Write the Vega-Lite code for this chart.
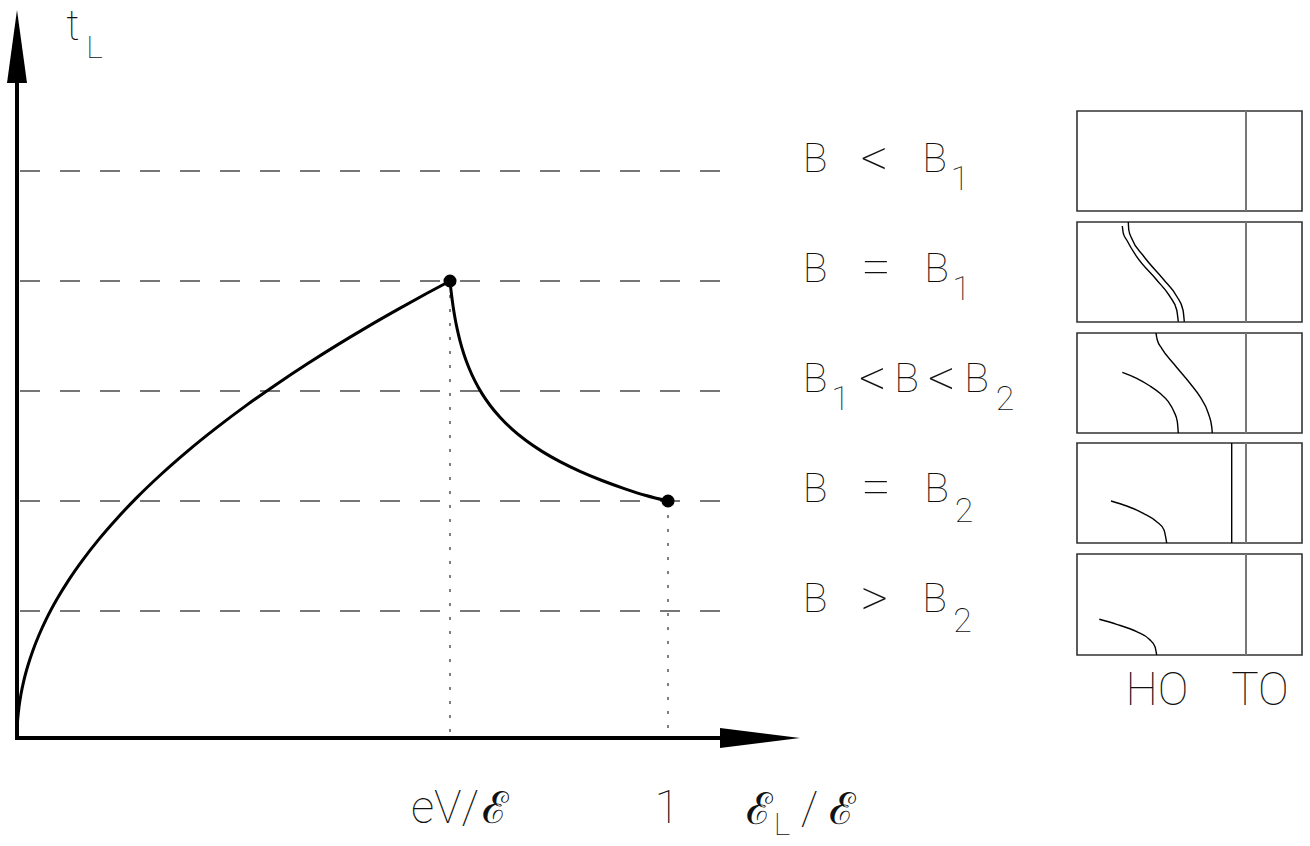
{
  "$schema": "https://vega.github.io/schema/vega-lite/v6.json",
  "width": 1310,
  "height": 846,
  "padding": 0,
  "autosize": {"type": "none"},
  "background": "white",
  "config": {"view": {"stroke": null}},
  "datasets": {
    "axes": [
      {"x": 0, "y": 0, "x2": 0, "y2": 6.6},
      {"x": 0, "y": 0, "x2": 1.1413, "y2": 0}
    ],
    "arrowX": [
      {"x": 1.079877, "y": -0.1, "y2": 0.1},
      {"x": 1.202765, "y": 0, "y2": 0}
    ],
    "arrowY": [
      {"y": 6.55, "x": -0.015361, "x2": 0.015361},
      {"y": 7.28, "x": 0, "x2": 0}
    ],
    "levels": [
      {"y": 5.67, "x": 0.004608, "x2": 1.079877},
      {"y": 4.57, "x": 0.004608, "x2": 1.079877},
      {"y": 3.47, "x": 0.004608, "x2": 1.079877},
      {"y": 2.37, "x": 0.004608, "x2": 1.079877},
      {"y": 1.27, "x": 0.004608, "x2": 1.079877}
    ],
    "drops": [
      {"x": 0.665131, "y": 4.57, "y2": 0},
      {"x": 1, "y": 2.37, "y2": 0}
    ],
    "curve": [
      {"seg": "rise", "x": 0, "y": 0},
      {"seg": "rise", "x": 0.000768, "y": 0.155},
      {"seg": "rise", "x": 0.001536, "y": 0.22},
      {"seg": "rise", "x": 0.003072, "y": 0.311},
      {"seg": "rise", "x": 0.006144, "y": 0.439},
      {"seg": "rise", "x": 0.010753, "y": 0.581},
      {"seg": "rise", "x": 0.016897, "y": 0.728},
      {"seg": "rise", "x": 0.024578, "y": 0.878},
      {"seg": "rise", "x": 0.033794, "y": 1.03},
      {"seg": "rise", "x": 0.046083, "y": 1.203},
      {"seg": "rise", "x": 0.061444, "y": 1.389},
      {"seg": "rise", "x": 0.079877, "y": 1.584},
      {"seg": "rise", "x": 0.101382, "y": 1.784},
      {"seg": "rise", "x": 0.12596, "y": 1.989},
      {"seg": "rise", "x": 0.15361, "y": 2.196},
      {"seg": "rise", "x": 0.184332, "y": 2.406},
      {"seg": "rise", "x": 0.222734, "y": 2.645},
      {"seg": "rise", "x": 0.261137, "y": 2.864},
      {"seg": "rise", "x": 0.30722, "y": 3.106},
      {"seg": "rise", "x": 0.353303, "y": 3.331},
      {"seg": "rise", "x": 0.399386, "y": 3.541},
      {"seg": "rise", "x": 0.445469, "y": 3.74},
      {"seg": "rise", "x": 0.491551, "y": 3.929},
      {"seg": "rise", "x": 0.537634, "y": 4.109},
      {"seg": "rise", "x": 0.583717, "y": 4.281},
      {"seg": "rise", "x": 0.6298, "y": 4.447},
      {"seg": "rise", "x": 0.665131, "y": 4.57},
      {"seg": "fall", "x": 0.665131, "y": 4.57},
      {"seg": "fall", "x": 0.665899, "y": 4.5212},
      {"seg": "fall", "x": 0.666667, "y": 4.476},
      {"seg": "fall", "x": 0.668203, "y": 4.3945},
      {"seg": "fall", "x": 0.669739, "y": 4.3227},
      {"seg": "fall", "x": 0.672811, "y": 4.2003},
      {"seg": "fall", "x": 0.675883, "y": 4.0984},
      {"seg": "fall", "x": 0.680492, "y": 3.9717},
      {"seg": "fall", "x": 0.686636, "y": 3.8356},
      {"seg": "fall", "x": 0.694316, "y": 3.6995},
      {"seg": "fall", "x": 0.703533, "y": 3.5682},
      {"seg": "fall", "x": 0.714286, "y": 3.444},
      {"seg": "fall", "x": 0.726575, "y": 3.3275},
      {"seg": "fall", "x": 0.741935, "y": 3.2075},
      {"seg": "fall", "x": 0.760369, "y": 3.0891},
      {"seg": "fall", "x": 0.781874, "y": 2.9749},
      {"seg": "fall", "x": 0.806452, "y": 2.8661},
      {"seg": "fall", "x": 0.834101, "y": 2.7633},
      {"seg": "fall", "x": 0.864823, "y": 2.6663},
      {"seg": "fall", "x": 0.898618, "y": 2.5748},
      {"seg": "fall", "x": 0.933948, "y": 2.4919},
      {"seg": "fall", "x": 0.966206, "y": 2.4249},
      {"seg": "fall", "x": 1, "y": 2.37}
    ],
    "marks": [
      {"x": 0.665131, "y": 4.57},
      {"x": 1, "y": 2.37}
    ],
    "boxes": [
      {"x": 1.628264, "x2": 1.973886, "y": 6.27, "y2": 5.27},
      {"x": 1.628264, "x2": 1.973886, "y": 5.16, "y2": 4.16},
      {"x": 1.628264, "x2": 1.973886, "y": 4.05, "y2": 3.05},
      {"x": 1.628264, "x2": 1.973886, "y": 2.95, "y2": 1.95},
      {"x": 1.628264, "x2": 1.973886, "y": 1.84, "y2": 0.83}
    ],
    "toLines": [
      {"x": 1.887865, "y": 6.27, "y2": 5.27},
      {"x": 1.887865, "y": 5.16, "y2": 4.16},
      {"x": 1.887865, "y": 4.05, "y2": 3.05},
      {"x": 1.887865, "y": 2.95, "y2": 1.95},
      {"x": 1.887865, "y": 1.84, "y2": 0.83}
    ],
    "fronts": [
      {"x": 1.865899, "y": 2.95, "y2": 1.95}
    ],
    "profiles": [
      {"id": "b2a", "x": 1.69785, "y": 5.12},
      {"id": "b2a", "x": 1.69939, "y": 5.047},
      {"id": "b2a", "x": 1.70461, "y": 4.98},
      {"id": "b2a", "x": 1.71997, "y": 4.813},
      {"id": "b2a", "x": 1.75069, "y": 4.58},
      {"id": "b2a", "x": 1.77112, "y": 4.413},
      {"id": "b2a", "x": 1.78141, "y": 4.28},
      {"id": "b2a", "x": 1.78387, "y": 4.163},
      {"id": "b2b", "x": 1.70707, "y": 5.16},
      {"id": "b2b", "x": 1.70783, "y": 5.08},
      {"id": "b2b", "x": 1.71198, "y": 5.0},
      {"id": "b2b", "x": 1.73041, "y": 4.82},
      {"id": "b2b", "x": 1.7619, "y": 4.58},
      {"id": "b2b", "x": 1.78187, "y": 4.413},
      {"id": "b2b", "x": 1.79109, "y": 4.28},
      {"id": "b2b", "x": 1.79309, "y": 4.163},
      {"id": "b3a", "x": 1.74962, "y": 4.05},
      {"id": "b3a", "x": 1.75161, "y": 3.98},
      {"id": "b3a", "x": 1.75837, "y": 3.897},
      {"id": "b3a", "x": 1.77619, "y": 3.747},
      {"id": "b3a", "x": 1.80184, "y": 3.547},
      {"id": "b3a", "x": 1.8172, "y": 3.413},
      {"id": "b3a", "x": 1.82995, "y": 3.247},
      {"id": "b3a", "x": 1.83518, "y": 3.113},
      {"id": "b3a", "x": 1.8361, "y": 3.05},
      {"id": "b3b", "x": 1.69785, "y": 3.657},
      {"id": "b3b", "x": 1.71997, "y": 3.597},
      {"id": "b3b", "x": 1.7404, "y": 3.52},
      {"id": "b3b", "x": 1.75576, "y": 3.447},
      {"id": "b3b", "x": 1.76851, "y": 3.363},
      {"id": "b3b", "x": 1.77727, "y": 3.263},
      {"id": "b3b", "x": 1.78233, "y": 3.163},
      {"id": "b3b", "x": 1.78387, "y": 3.05},
      {"id": "b4", "x": 1.68049, "y": 2.37},
      {"id": "b4", "x": 1.70461, "y": 2.32},
      {"id": "b4", "x": 1.73011, "y": 2.247},
      {"id": "b4", "x": 1.75069, "y": 2.163},
      {"id": "b4", "x": 1.7619, "y": 2.08},
      {"id": "b4", "x": 1.76605, "y": 1.95},
      {"id": "b5", "x": 1.66252, "y": 1.187},
      {"id": "b5", "x": 1.68925, "y": 1.137},
      {"id": "b5", "x": 1.71997, "y": 1.063},
      {"id": "b5", "x": 1.73932, "y": 0.987},
      {"id": "b5", "x": 1.74808, "y": 0.913},
      {"id": "b5", "x": 1.75069, "y": 0.83}
    ],
    "letters": [
      {"text": "B", "x": 1.225806, "y": 5.66},
      {"text": "B", "x": 1.40937, "y": 5.66},
      {"text": "B", "x": 1.225806, "y": 4.56},
      {"text": "B", "x": 1.412442, "y": 4.56},
      {"text": "B", "x": 1.225806, "y": 3.46},
      {"text": "B", "x": 1.366359, "y": 3.46},
      {"text": "B", "x": 1.473886, "y": 3.46},
      {"text": "B", "x": 1.225806, "y": 2.36},
      {"text": "B", "x": 1.412442, "y": 2.36},
      {"text": "B", "x": 1.225806, "y": 1.26},
      {"text": "B", "x": 1.40937, "y": 1.26}
    ],
    "operators": [
      {"text": "<", "x": 1.317204, "y": 5.62},
      {"text": "=", "x": 1.319508, "y": 4.53},
      {"text": "<", "x": 1.314132, "y": 3.42},
      {"text": "<", "x": 1.420123, "y": 3.42},
      {"text": "=", "x": 1.319508, "y": 2.33},
      {"text": ">", "x": 1.317204, "y": 1.22}
    ],
    "labelSubs": [
      {"text": "1", "x": 1.448541, "y": 5.48},
      {"text": "1", "x": 1.450845, "y": 4.38},
      {"text": "1", "x": 1.264977, "y": 3.28},
      {"text": "2", "x": 1.517665, "y": 3.28},
      {"text": "2", "x": 1.454685, "y": 2.16},
      {"text": "2", "x": 1.452381, "y": 1.06}
    ],
    "axisText": [
      {"text": "eV/", "x": 0.65745, "y": -0.85},
      {"text": "1", "x": 0.998464, "y": -0.85},
      {"text": "/", "x": 1.217358, "y": -0.86},
      {"text": "HO", "x": 1.751152, "y": 0.33},
      {"text": "TO", "x": 1.90937, "y": 0.33}
    ],
    "timeLabel": [
      {"text": "t", "x": 0.086022, "y": 6.98}
    ],
    "scriptE": [
      {"text": "ℰ", "x": 0.734255, "y": -0.85},
      {"text": "ℰ", "x": 1.140553, "y": -0.86},
      {"text": "ℰ", "x": 1.268049, "y": -0.86}
    ],
    "axisSubs": [
      {"text": "L", "x": 0.119048, "y": 6.8},
      {"text": "L", "x": 1.175115, "y": -0.97}
    ]
  },
  "encoding": {
    "x": {"field": "x", "type": "quantitative", "axis": null,
          "scale": {"domain": [-0.026114, 1.986175], "nice": false, "zero": false}},
    "y": {"field": "y", "type": "quantitative", "axis": null,
          "scale": {"domain": [-1.08, 7.38], "nice": false, "zero": false}}
  },
  "layer": [
    {
      "data": {"name": "levels"},
      "mark": {"type": "rule", "stroke": "#4a4a4a", "strokeWidth": 1.5, "strokeDash": [20, 20]},
      "encoding": {"x2": {"field": "x2"}}
    },
    {
      "data": {"name": "drops"},
      "mark": {"type": "rule", "stroke": "#555555", "strokeWidth": 1.5, "strokeDash": [3, 11]},
      "encoding": {"y2": {"field": "y2"}}
    },
    {
      "data": {"name": "axes"},
      "mark": {"type": "rule", "stroke": "black", "strokeWidth": 4, "strokeCap": "square"},
      "encoding": {"x2": {"field": "x2"}, "y2": {"field": "y2"}}
    },
    {
      "data": {"name": "arrowX"},
      "mark": {"type": "area", "color": "black", "orient": "vertical"},
      "encoding": {"y2": {"field": "y2"}}
    },
    {
      "data": {"name": "arrowY"},
      "mark": {"type": "area", "color": "black", "orient": "horizontal"},
      "encoding": {"x2": {"field": "x2"}}
    },
    {
      "data": {"name": "curve"},
      "mark": {"type": "line", "color": "black", "strokeWidth": 3, "interpolate": "monotone"},
      "encoding": {"detail": {"field": "seg"}}
    },
    {
      "data": {"name": "marks"},
      "mark": {"type": "point", "shape": "circle", "filled": true, "color": "black", "opacity": 1, "size": 170}
    },
    {
      "data": {"name": "boxes"},
      "mark": {"type": "rect", "fill": null, "fillOpacity": 0, "stroke": "#333333", "strokeWidth": 1.6},
      "encoding": {"x2": {"field": "x2"}, "y2": {"field": "y2"}}
    },
    {
      "data": {"name": "toLines"},
      "mark": {"type": "rule", "stroke": "#777777", "strokeWidth": 2},
      "encoding": {"y2": {"field": "y2"}}
    },
    {
      "data": {"name": "fronts"},
      "mark": {"type": "rule", "stroke": "black", "strokeWidth": 1.4},
      "encoding": {"y2": {"field": "y2"}}
    },
    {
      "data": {"name": "profiles"},
      "mark": {"type": "line", "color": "black", "strokeWidth": 1.4, "interpolate": "monotone"},
      "encoding": {"detail": {"field": "id"}}
    },
    {
      "data": {"name": "letters"},
      "mark": {"type": "text", "font": "Roboto", "fontWeight": 100, "fontSize": 41, "align": "center", "baseline": "alphabetic", "color": "#111111"},
      "encoding": {"text": {"field": "text"}}
    },
    {
      "data": {"name": "operators"},
      "mark": {"type": "text", "font": "Roboto", "fontWeight": 100, "fontSize": 54, "align": "center", "baseline": "alphabetic", "color": "#111111"},
      "encoding": {"text": {"field": "text"}}
    },
    {
      "data": {"name": "labelSubs"},
      "mark": {"type": "text", "font": "Roboto", "fontWeight": 100, "fontSize": 34, "align": "center", "baseline": "alphabetic", "color": "#111111"},
      "encoding": {"text": {"field": "text"}}
    },
    {
      "data": {"name": "axisText"},
      "mark": {"type": "text", "font": "Roboto", "fontWeight": 100, "fontSize": 46, "align": "center", "baseline": "alphabetic", "color": "#111111"},
      "encoding": {"text": {"field": "text"}}
    },
    {
      "data": {"name": "timeLabel"},
      "mark": {"type": "text", "font": "Roboto", "fontWeight": 100, "fontSize": 42, "align": "center", "baseline": "alphabetic", "color": "#111111"},
      "encoding": {"text": {"field": "text"}}
    },
    {
      "data": {"name": "scriptE"},
      "mark": {"type": "text", "font": "DejaVu Serif", "fontSize": 44, "align": "center", "baseline": "alphabetic", "color": "#111111"},
      "encoding": {"text": {"field": "text"}}
    },
    {
      "data": {"name": "axisSubs"},
      "mark": {"type": "text", "font": "Roboto", "fontWeight": 100, "fontSize": 32, "align": "center", "baseline": "alphabetic", "color": "#111111"},
      "encoding": {"text": {"field": "text"}}
    }
  ]
}
